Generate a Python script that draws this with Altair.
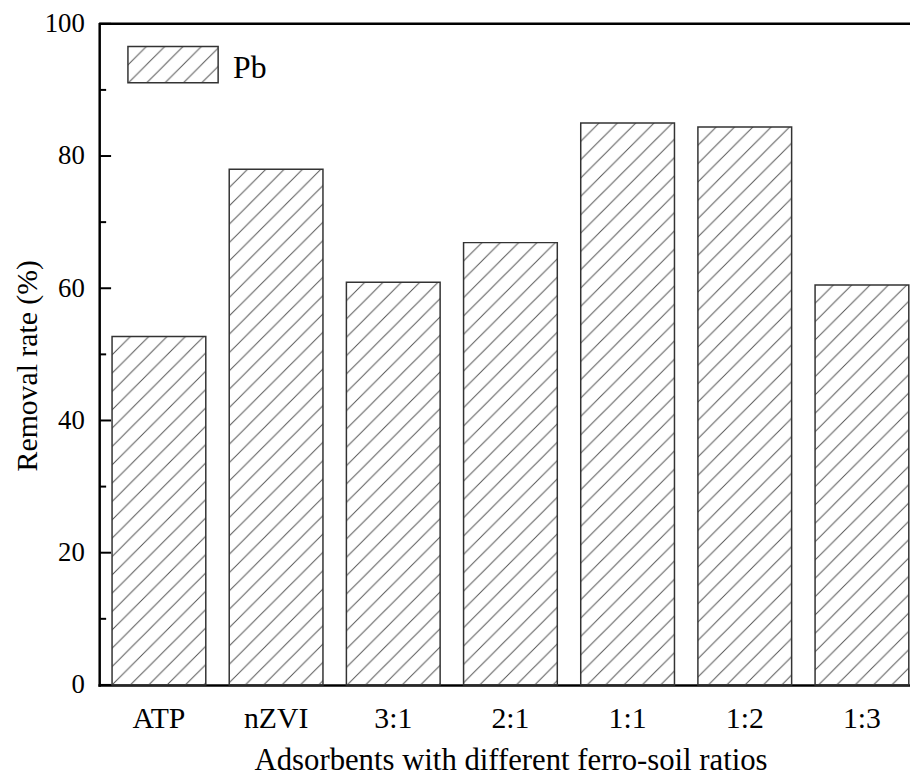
import altair as alt
import pandas as pd
from urllib.parse import quote

# ---- data ----
categories = ["ATP", "nZVI", "3:1", "2:1", "1:1", "1:2", "1:3"]
removal = [52.7, 78.0, 60.9, 66.9, 85.0, 84.4, 60.5]
major_ticks = [0, 20, 40, 60, 80, 100]
minor_ticks = [10, 30, 50, 70, 90]
top_frame = [100]
legend_label = ["Pb"]

FONT = "Liberation Serif"

bars = pd.DataFrame({"cat": categories, "val": removal})
major_df = pd.DataFrame({"val": major_ticks})
minor_df = pd.DataFrame({"val": minor_ticks})
top_df = pd.DataFrame({"val": top_frame})
legend_df = pd.DataFrame({"label": legend_label})

# hatch tile drawn as an SVG image (diagonal "/" lines)
svg = (
    "<svg xmlns='http://www.w3.org/2000/svg' width='100%' height='100%'>"
    "<defs><pattern id='h' patternUnits='userSpaceOnUse' width='18.5' height='18.5'>"
    "<path d='M0,18.5 L18.5,0 M-2,2 L2,-2 M16.5,20.5 L20.5,16.5' "
    "stroke='#555555' stroke-width='1' fill='none'/>"
    "</pattern></defs><rect width='100%' height='100%' fill='url(#h)'/></svg>"
)
hatch_url = "data:image/svg+xml;charset=utf-8," + quote(svg)

W, H = 818, 667

x_enc = alt.X(
    "cat:N",
    sort=categories,
    scale=alt.Scale(domain=categories, paddingInner=0.2, paddingOuter=0.06, align=0.915),
    axis=alt.Axis(
        title="Adsorbents with different ferro-soil ratios",
        labelAngle=0,
        ticks=False,
        grid=False,
        domainColor="black",
        domainWidth=2.5,
        domainCap="square",
        labelFont=FONT,
        labelFontSize=30,
        labelColor="black",
        labelPadding=18.5,
        titleFont=FONT,
        titleFontSize=31,
        titleFontWeight="normal",
        titleColor="black",
        titleX=415,
        titleY=85,
        titleAlign="center",
        titleBaseline="alphabetic",
    ),
)

y_enc = alt.Y(
    "val:Q",
    scale=alt.Scale(domain=[0, 100], nice=False, zero=True),
    axis=alt.Axis(
        title="Removal rate (%)",
        values=major_ticks,
        ticks=False,
        grid=False,
        domainColor="black",
        domainWidth=2.5,
        domainCap="square",
        labelFont=FONT,
        labelFontSize=27,
        labelColor="black",
        labelPadding=15,
        titleFont=FONT,
        titleFontSize=30,
        titleFontWeight="normal",
        titleColor="black",
        titleAngle=-90,
        titleX=-63,
        titleY=344.5,
        titleAlign="center",
        titleBaseline="alphabetic",
    ),
)

hatch = alt.Chart(bars).mark_image(aspect=False).encode(
    x=x_enc, y=y_enc, y2=alt.datum(0), url=alt.value(hatch_url)
)

outline = alt.Chart(bars).mark_bar(
    fill="white", fillOpacity=0, stroke="#333333", strokeWidth=1.5
).encode(x=x_enc, y=y_enc)

major = alt.Chart(major_df).mark_rule(color="black", strokeWidth=2).encode(
    y=y_enc, x=alt.value(0), x2=alt.value(12)
)
minor = alt.Chart(minor_df).mark_rule(color="black", strokeWidth=2).encode(
    y=y_enc, x=alt.value(0), x2=alt.value(7)
)
top = alt.Chart(top_df).mark_rule(color="black", strokeWidth=2.5).encode(y=y_enc)

leg_img = alt.Chart(legend_df).mark_image(aspect=False).encode(
    x=alt.value(29), x2=alt.value(120), y=alt.value(23), y2=alt.value(59.5),
    url=alt.value(hatch_url),
)
leg_box = alt.Chart(legend_df).mark_rect(
    fill="white", fillOpacity=0, stroke="#333333", strokeWidth=1.5
).encode(x=alt.value(29), x2=alt.value(120), y=alt.value(23), y2=alt.value(59.5))
leg_txt = alt.Chart(legend_df).mark_text(
    align="left", baseline="alphabetic", font=FONT, fontSize=32, color="black"
).encode(x=alt.value(135), y=alt.value(54.5), text="label:N")

chart = (
    alt.layer(hatch, outline, major, minor, top, leg_img, leg_box, leg_txt)
    .properties(
        width=W,
        height=H,
        autosize=alt.AutoSizeParams(type="none"),
        padding={"left": 92, "top": 12.5, "right": 0, "bottom": 95},
        background="white",
    )
    .configure_view(stroke=None)
    .configure(font=FONT)
)

chart.save("out.html", embed_options={"renderer": "svg", "actions": False})
